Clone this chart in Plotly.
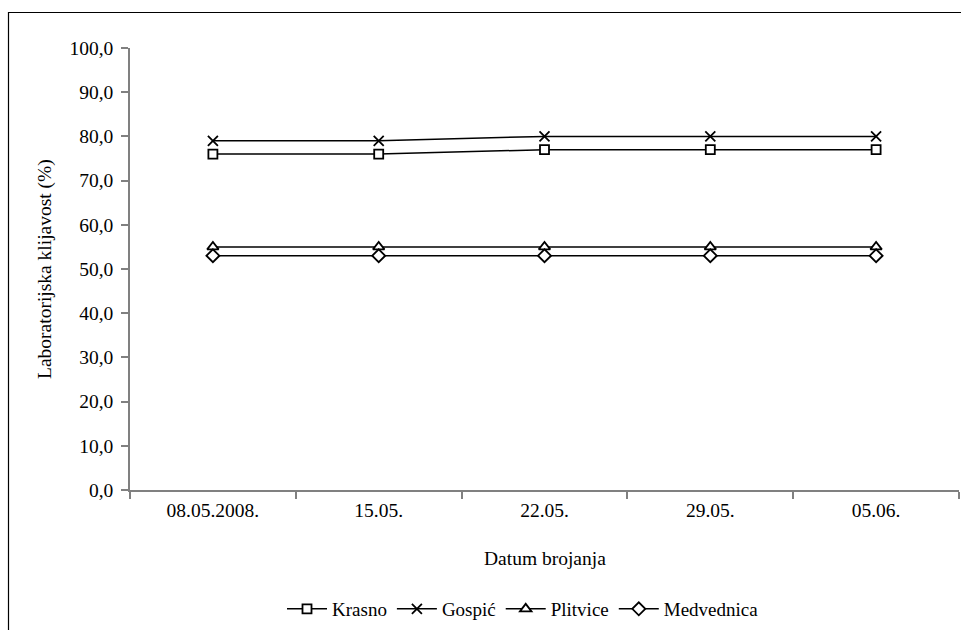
import plotly.graph_objects as go

dates = ["08.05.2008.", "15.05.", "22.05.", "29.05.", "05.06."]
krasno = [76, 76, 77, 77, 77]
gospic = [79, 79, 80, 80, 80]
plitvice = [55, 55, 55, 55, 55]
medvednica = [53, 53, 53, 53, 53]

series_names = ["Krasno", "Gospić", "Plitvice", "Medvednica"]
y_ticks = [0, 10, 20, 30, 40, 50, 60, 70, 80, 90, 100]

FONT = "Liberation Serif, Times New Roman, serif"
FS = 19.5
W, H = 961, 630
ML, MR, MT, MB = 130, 2, 48, 140
PW = W - ML - MR
PH = H - MT - MB

def px_x(p):
    return (p - ML) / PW

def px_y(p):
    return (H - MB - p) / PH

styles = [
    dict(symbol="square", size=9),
    dict(symbol="x-thin", size=10),
    dict(symbol="triangle-up", size=10),
    dict(symbol="diamond", size=10),
]

fig = go.Figure()
for name, vals, st in zip(series_names, [krasno, gospic, plitvice, medvednica], styles):
    fig.add_trace(go.Scatter(
        x=dates, y=vals, name=name, mode="lines+markers",
        line=dict(color="black", width=1.5),
        marker=dict(symbol=st["symbol"], size=st["size"], color="white",
                    line=dict(color="black", width=1.8)),
    ))

fig.update_layout(
    width=W, height=H,
    margin=dict(l=ML, r=MR, t=MT, b=MB),
    paper_bgcolor="white", plot_bgcolor="white",
    separators=",.",
    font=dict(family=FONT, size=FS, color="black"),
    showlegend=True,
    legend=dict(orientation="h", x=px_x(282), xanchor="left",
                y=px_y(609), yanchor="middle",
                font=dict(family=FONT, size=19, color="black"),
                itemwidth=40, tracegroupgap=0),
    xaxis=dict(
        type="category", range=[-0.5, 4.5],
        showline=True, linecolor="#808080", linewidth=1.5,
        ticks="outside", ticklen=7, tickcolor="#808080", tickwidth=1.5,
        tickson="boundaries", showgrid=False, zeroline=False,
        ticklabelstandoff=2,
        tickfont=dict(family=FONT, size=FS, color="black"),
    ),
    yaxis=dict(
        range=[0, 100], tickvals=y_ticks, tickformat=".1f",
        showline=True, linecolor="#808080", linewidth=1.5,
        ticks="outside", ticklen=7, tickcolor="#808080", tickwidth=1.5,
        showgrid=False, zeroline=False,
        ticklabelstandoff=4,
        tickfont=dict(family=FONT, size=FS, color="black"),
    ),
    shapes=[dict(type="rect", xref="paper", yref="paper",
                 x0=px_x(8.5), x1=px_x(W + 20), y0=px_y(H + 20), y1=px_y(12.5),
                 line=dict(color="black", width=1.2), fillcolor="rgba(0,0,0,0)",
                 layer="below")],
    annotations=[
        dict(text="Datum brojanja", xref="paper", yref="paper",
             x=px_x(545), y=px_y(558), xanchor="center", yanchor="middle",
             showarrow=False, font=dict(family=FONT, size=FS, color="black")),
        dict(text="Laboratorijska klijavost (%)", xref="paper", yref="paper",
             x=px_x(45), y=px_y(269), xanchor="center", yanchor="middle",
             textangle=-90, showarrow=False,
             font=dict(family=FONT, size=FS, color="black")),
    ],
)

fig.write_html(
    "out.html",
    config={"displayModeBar": False},
    post_script="document.body.style.margin='0';document.body.style.overflow='hidden';",
)
